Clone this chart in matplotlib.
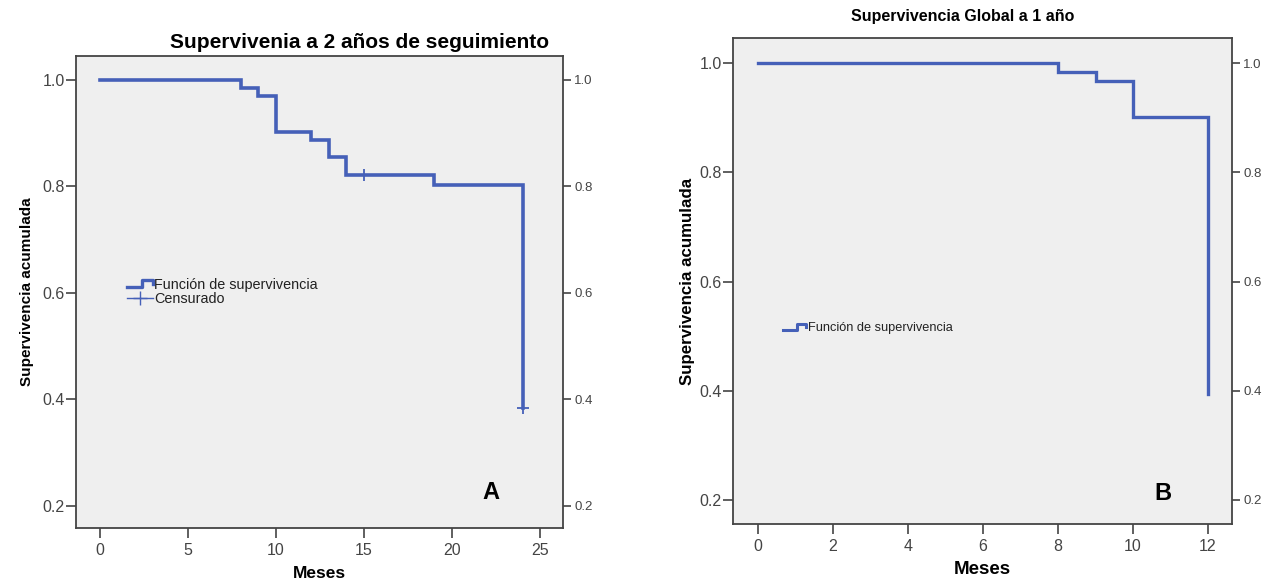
import matplotlib
matplotlib.use("Agg")
import matplotlib.pyplot as plt
from matplotlib.lines import Line2D
from matplotlib.legend_handler import HandlerBase

plt.rcParams['font.family'] = ['Liberation Sans', 'DejaVu Sans']

# Panel A: Kaplan-Meier estimate, 2-year follow-up
times_a = [0, 8, 9, 10, 12, 13, 14, 19, 24]
surv_a = [1.0, 0.984, 0.969, 0.903, 0.887, 0.855, 0.822, 0.803, 0.383]
cens_t_a = [15, 24]
cens_s_a = [0.822, 0.383]

# Panel B: overall survival at 1 year
times_b = [0, 8, 9, 10, 12]
surv_b = [1.0, 0.984, 0.967, 0.902, 0.394]

xticks_a = [0, 5, 10, 15, 20, 25]
xticks_b = [0, 2, 4, 6, 8, 10, 12]
yticks = [0.2, 0.4, 0.6, 0.8, 1.0]

LINE = '#4560B8'
BG = '#EFEFEF'
SPINE = '#444444'
TXT = '#444444'

W, H = 1265, 581
fig = plt.figure(figsize=(W / 100, H / 100), dpi=100)


def px_axes(l, t, r, b):
    return fig.add_axes([l / W, 1 - b / H, (r - l) / W, (b - t) / H])


class StepHandler(HandlerBase):
    def create_artists(self, legend, orig_handle, xdescent, ydescent,
                       width, height, fontsize, trans):
        x0, y0 = -xdescent, -ydescent
        xs = [x0, x0 + width * 0.6, x0 + width * 0.6, x0 + width, x0 + width]
        ys = [y0 + height * 0.2, y0 + height * 0.2, y0 + height * 0.85,
              y0 + height * 0.85, y0 + height * 0.5]
        ln = Line2D(xs, ys, color=orig_handle.get_color(),
                    lw=orig_handle.get_linewidth(), transform=trans)
        return [ln]


def style(ax, xlim, ylim, xticks, label_pt, right_pt):
    ax.set_facecolor(BG)
    ax.set_xlim(*xlim)
    ax.set_ylim(*ylim)
    for s in ax.spines.values():
        s.set_color(SPINE)
        s.set_linewidth(1.3)
    ax.set_xticks(xticks)
    ax.set_yticks(yticks)
    ax.set_yticklabels([f"{v:.1f}" for v in yticks])
    ax.tick_params(axis='both', direction='out', length=7, width=1.2,
                   colors=SPINE, labelcolor=TXT, labelsize=label_pt)
    ax.tick_params(axis='y', right=True, labelright=True, pad=1)
    # smaller labels on the right-hand copy of the axis
    for t in ax.yaxis.get_major_ticks():
        t.label2.set_fontsize(right_pt)
        t.tick2line.set_markersize(6)


# ---------- Panel A ----------
axA = px_axes(76, 56, 563, 528)
style(axA, (-1.36, 26.3), (0.158, 1.045), xticks_a, 11.5, 9.5)
axA.step(times_a, surv_a, where='post', color=LINE, lw=2.6,
         solid_joinstyle='miter')
axA.plot(cens_t_a, cens_s_a, linestyle='none', marker='+', ms=8,
         mew=1.3, color=LINE)
axA.set_title('Supervivenia a 2 años de seguimiento', fontsize=15,
              fontweight='bold', pad=6, x=0.583)
axA.set_xlabel('Meses', fontsize=12.5, fontweight='bold', labelpad=6)
axA.set_ylabel('Supervivencia acumulada', fontsize=11, fontweight='bold',
               labelpad=6)
axA.text(22.2, 0.225, 'A', fontsize=17, fontweight='bold', ha='center',
         va='center')
hA1 = Line2D([], [], color=LINE, lw=2.4)
hA2 = Line2D([], [], color=LINE, lw=1.0, marker='+', ms=10, mew=1.0)
legA = axA.legend([hA1, hA2], ['Función de supervivencia', 'Censurado'],
                  handler_map={hA1: StepHandler()},
                  loc='upper left', bbox_to_anchor=(0.089, 0.545),
                  frameon=False, fontsize=10.4, handlelength=1.8,
                  handletextpad=0.1, labelspacing=0.0, borderpad=0)
for t in legA.get_texts():
    t.set_color('#222222')

# ---------- Panel B ----------
axB = px_axes(733, 38, 1232, 524)
style(axB, (-0.667, 12.64), (0.156, 1.046), xticks_b, 11.5, 9.5)
axB.step(times_b, surv_b, where='post', color=LINE, lw=2.4,
         solid_joinstyle='miter')
axB.set_title('Supervivencia Global a 1 año', fontsize=11.5,
              fontweight='bold', pad=12, x=0.461)
axB.set_xlabel('Meses', fontsize=13.5, fontweight='bold', labelpad=5)
axB.set_ylabel('Supervivencia acumulada', fontsize=12.2, fontweight='bold',
               labelpad=3)
axB.text(10.8, 0.212, 'B', fontsize=17, fontweight='bold', ha='center',
         va='center')
hB1 = Line2D([], [], color=LINE, lw=2.2)
legB = axB.legend([hB1], ['Función de supervivencia'],
                  handler_map={hB1: StepHandler()},
                  loc='upper left', bbox_to_anchor=(0.088, 0.428),
                  frameon=False, fontsize=9.2, handlelength=1.8,
                  handletextpad=0.1, borderpad=0)
for t in legB.get_texts():
    t.set_color('#222222')

fig.savefig('out.png', dpi=100, facecolor='white')
